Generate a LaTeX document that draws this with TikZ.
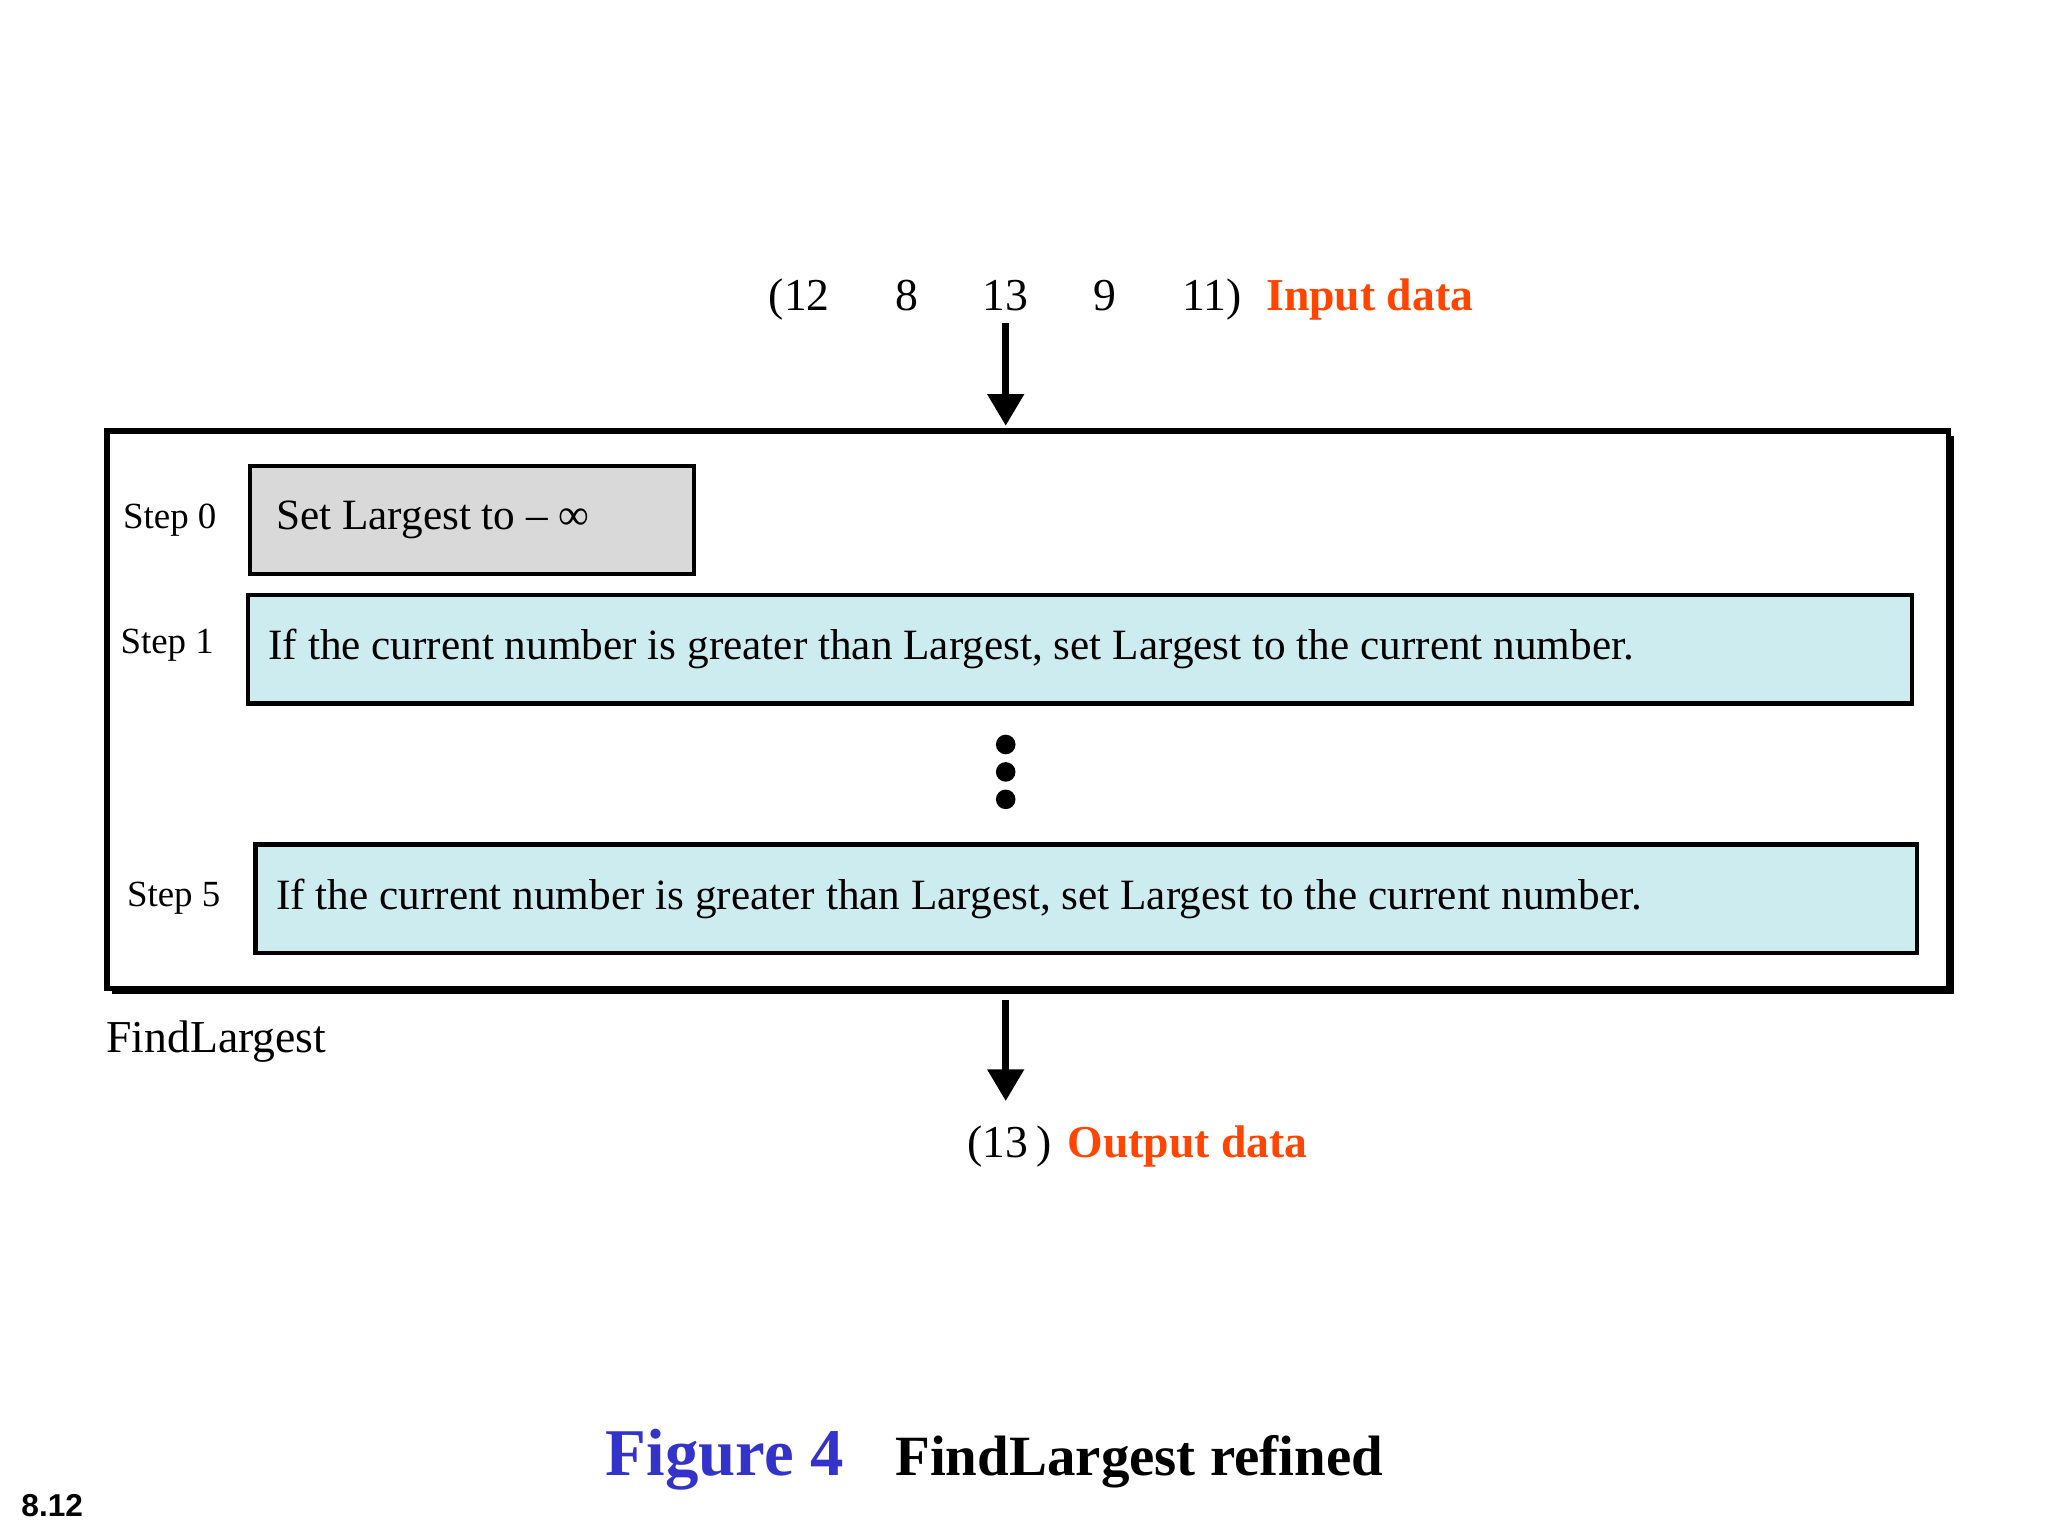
\documentclass[tikz,border=0pt]{standalone}
\usepackage{fontspec}
\setmainfont{Liberation Serif}
\newfontfamily\sansf{Liberation Sans}
\usepackage{xcolor}
\usetikzlibrary{arrows.meta, positioning}
\definecolor{orangered}{RGB}{255,69,0}
\definecolor{figblue}{RGB}{51,51,204}
\definecolor{stepcyan}{RGB}{204,236,240}
\definecolor{stepgray}{RGB}{217,217,217}
\begin{document}
\begin{tikzpicture}[
            x=0.01306cm, y=-0.01306cm,
            stepbox/.style={draw, line width=1.2pt, fill=stepcyan, anchor=north west, inner sep=0pt},
            steplabel/.style={font=\fontsize{10.5}{12}\selectfont},
            steptext/.style={font=\fontsize{12.3}{14}\selectfont, anchor=west},
            arrow/.style={-{Triangle[length=9pt,width=10pt]}, line width=2pt},
            dat/.style={font=\fontsize{13}{15}\selectfont, anchor=base},
            label/.style={font=\fontsize{13}{15}\selectfont\bfseries, text=orangered, anchor=base west}
        ]
            \useasboundingbox (0,0) rectangle (1568,1176);
            % outer box with shadow
            \fill (86,334) rectangle (1496,761);
            \node[draw, line width=1.5pt, fill=white, minimum width=1410*0.01306cm, minimum height=427*0.01306cm, anchor=north west, inner sep=0pt] (algo) at (80,328) {};
            \node[anchor=north west, font=\fontsize{13}{15}\selectfont] (name) at (72,772) {FindLargest};

            % steps
            \node[stepbox, fill=stepgray, minimum width=340*0.01306cm, minimum height=83*0.01306cm] (s0) at (190,355) {};
            \node[steptext] at ([xshift=12*0.01306cm]s0.west) {Set Largest to – ∞};
            \node[stepbox, minimum width=1274*0.01306cm, minimum height=83*0.01306cm] (s1) at (188,454) {};
            \node[steptext] at ([xshift=8*0.01306cm]s1.west) {If the current number is greater than Largest, set Largest to the current number.};
            \node[stepbox, minimum width=1272*0.01306cm, minimum height=83*0.01306cm] (s5) at (194,645) {};
            \node[steptext] at ([xshift=8*0.01306cm]s5.west) {If the current number is greater than Largest, set Largest to the current number.};
            \node[steplabel] (l0) at (130,398) {Step 0};
            \node[steplabel] (l1) at (128,494) {Step 1};
            \node[steplabel] (l5) at (133,688) {Step 5};

            \foreach \y in {570,591,612}
                \fill (770,\y) circle (7.5);

            % input and output
            \node[dat] (d1) at (612,238) {(12};
            \node[dat] (d2) at (694,238) {8};
            \node[dat] (d3) at (770,238) {13};
            \node[dat] (d4) at (846,238) {9};
            \node[dat] (d5) at (928,238) {11)};
            \node[label] (in) at (960,238) {Input data};
            \coordinate (inTip) at (770,326);
            \coordinate (inTail) at (770,247);
            \draw[arrow] (inTail) -- (inTip);

            \coordinate (outTail) at (770,766);
            \coordinate (outTip) at (770,843);
            \draw[arrow] (outTail) -- (outTip);
            \node[dat] (res) at (773,886) {(13\,)};
            \node[label] (out) at (808,886) {Output data};

            % caption
            \node[font=\fontsize{19}{22}\selectfont\bfseries, text=figblue, anchor=base] (fig) at (555,1130) {Figure 4};
            \node[font=\fontsize{16.2}{19}\selectfont\bfseries, anchor=base west] (cap) at (676,1130) {FindLargest refined};
            \node[font=\sansf\fontsize{9}{11}\selectfont\bfseries] (page) at (40,1153) {8.12};
        \end{tikzpicture}
\end{document}
